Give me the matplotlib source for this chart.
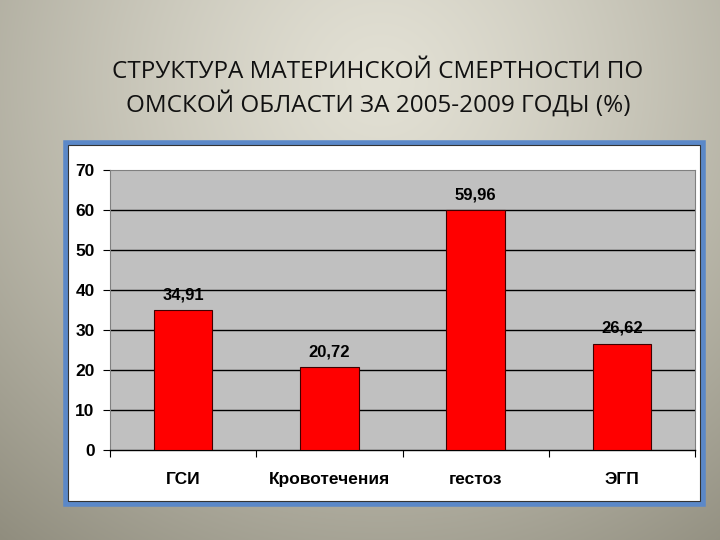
import numpy as np
import matplotlib
matplotlib.use("Agg")
import matplotlib.pyplot as plt
from matplotlib.patches import Rectangle

# --- Data ---
categories = ['ГСИ', 'Кровотечения', 'гестоз', 'ЭГП']
values = [34.91, 20.72, 59.96, 26.62]
value_labels = ['34,91', '20,72', '59,96', '26,62']
y_ticks = [0, 10, 20, 30, 40, 50, 60, 70]

title = 'СТРУКТУРА МАТЕРИНСКОЙ СМЕРТНОСТИ ПО\nОМСКОЙ ОБЛАСТИ ЗА 2005-2009 ГОДЫ (%)'

W, H = 720, 540
fig = plt.figure(figsize=(W / 100, H / 100), dpi=100)

# --- slide background: soft radial gradient ---
bg = fig.add_axes([0, 0, 1, 1])
yy, xx = np.mgrid[0:H, 0:W]
d = np.sqrt(((xx - 380) / 620.0) ** 2 + ((yy - 80) / 600.0) ** 2)
d = np.clip(d, 0, 1) ** 1.3
c_in = np.array([226, 224, 212]) / 255
c_out = np.array([142, 139, 124]) / 255
img = c_in[None, None, :] * (1 - d[..., None]) + c_out[None, None, :] * d[..., None]
bg.imshow(img, extent=[0, W, H, 0], aspect='auto')
bg.set_xlim(0, W)
bg.set_ylim(H, 0)
bg.axis('off')

# slide title
bg.text(378, 89, title, ha='center', va='center', fontsize=17.5,
        family=['Open Sans', 'DejaVu Sans'], color='#111111', linespacing=1.3)

# chart frame: blue border, white inside
bg.add_patch(Rectangle((65.5, 142.5), 637, 361, facecolor='white',
                       edgecolor='#5b88c8', linewidth=4))
bg.add_patch(Rectangle((68, 145), 632, 356, facecolor='none',
                       edgecolor='#333333', linewidth=0.8))

narrow = ['Liberation Sans Narrow', 'Liberation Sans']

# --- the chart itself ---
ax = fig.add_axes([110 / W, 1 - 450 / H, 585 / W, 280 / H])
ax.set_facecolor('#c0c0c0')

x = np.arange(len(categories))
ax.bar(x, values, width=0.4, color='#ff0000', edgecolor='#400000',
       linewidth=0.8, zorder=3)

for xi, v, lab in zip(x, values, value_labels):
    ax.text(xi, v + 2.0, lab, ha='center', va='bottom', fontsize=12,
            fontweight='bold', family=narrow, zorder=4)

ax.set_xlim(-0.5, len(categories) - 0.5)
ax.set_ylim(0, 70)
ax.set_yticks(y_ticks)
ax.set_yticklabels([str(t) for t in y_ticks], fontsize=12.5, fontweight='bold',
                   family=narrow)
# grid lines between the bottom axis and the top border
ax.hlines(y_ticks[1:-1], -0.5, len(categories) - 0.5, color='black',
          linewidth=1.0, zorder=1)

# category boundaries as ticks, names in the middle
ax.set_xticks(np.arange(len(categories) + 1) - 0.5)
ax.set_xticklabels([])
ax.set_xticks(x, minor=True)
ax.set_xticklabels(categories, minor=True, fontsize=12.5, fontweight='bold',
                   family=narrow)
ax.tick_params(axis='x', which='major', length=5, width=0.8, direction='out')
ax.tick_params(axis='x', which='minor', length=0, pad=16)
ax.tick_params(axis='y', length=5, width=0.8, pad=6)

for side in ['top', 'right', 'left']:
    ax.spines[side].set_color('#808080')
    ax.spines[side].set_linewidth(0.8)
ax.spines['bottom'].set_color('black')
ax.spines['bottom'].set_linewidth(1.0)

fig.savefig('out.png', dpi=100)
